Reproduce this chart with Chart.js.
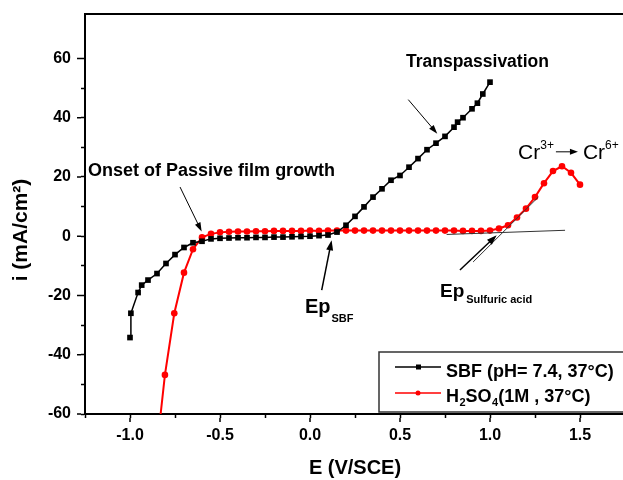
<!DOCTYPE html>
<html>
<head>
<meta charset="utf-8">
<script src="https://cdn.jsdelivr.net/npm/chart.js@4.4.1/dist/chart.umd.min.js"></script>
<style>
  html, body { margin: 0; padding: 0; background: #fff; overflow: hidden; }
  #wrap { width: 623px; height: 480px; overflow: hidden; }
  canvas { display: block; }
</style>
</head>
<body>
<div id="wrap"><canvas id="chart" width="640" height="480"></canvas></div>
<script>
// potential (V/SCE) and current density (mA/cm2)
const SBF_E = [-1.0, -0.995, -0.955, -0.935, -0.90, -0.85, -0.80, -0.75, -0.70, -0.65, -0.60, -0.55,
  -0.50, -0.45, -0.40, -0.35, -0.30, -0.25, -0.20, -0.15, -0.10, -0.05, 0.0, 0.05, 0.10,
  0.15, 0.20, 0.25, 0.30, 0.35, 0.40, 0.45, 0.50, 0.55, 0.60, 0.65, 0.70, 0.75, 0.80, 0.82,
  0.85, 0.90, 0.93, 0.96, 1.0];
const SBF_I = [-34.2, -26, -19, -16.5, -14.8, -12.6, -9.2, -6.2, -3.8, -2.2, -1.7, -0.9,
  -0.7, -0.6, -0.5, -0.5, -0.4, -0.4, -0.3, -0.3, -0.2, -0.1, 0.0, 0.2, 0.4,
  1.4, 3.7, 6.7, 9.9, 13.2, 16.0, 18.9, 20.5, 23.3, 26.2, 29.2, 31.4, 33.7, 36.8, 38.5,
  40.0, 43.0, 44.9, 48.0, 52.0];

const ACID_E = [-0.855, -0.806, -0.754, -0.70, -0.65, -0.60, -0.55, -0.50, -0.45, -0.40, -0.35,
  -0.30, -0.25, -0.20, -0.15, -0.10, -0.05, 0.0, 0.05, 0.10, 0.15, 0.20, 0.25, 0.30, 0.35,
  0.40, 0.45, 0.50, 0.55, 0.60, 0.65, 0.70, 0.75, 0.80, 0.85, 0.90, 0.95, 1.0, 1.05, 1.10,
  1.15, 1.20, 1.25, 1.30, 1.35, 1.40, 1.45, 1.50];
const ACID_I = [-74, -46.8, -26, -12.3, -4.4, -0.4, 0.8, 1.3, 1.5, 1.6, 1.6,
  1.7, 1.7, 1.8, 1.8, 1.8, 1.8, 1.9, 1.8, 1.9, 1.9, 1.9, 1.9, 1.9, 1.9,
  1.9, 1.9, 1.9, 1.9, 1.9, 1.9, 1.9, 1.9, 1.9, 1.8, 1.8, 1.8, 1.9, 2.6, 3.7,
  6.3, 9.3, 13.2, 17.9, 22.0, 23.6, 21.4, 17.4];

const X_LABELS = [-1.0, -0.5, 0.0, 0.5, 1.0, 1.5];
const Y_LABELS = [-60, -40, -20, 0, 20, 40, 60];

const LEGEND_SBF = "SBF (pH= 7.4, 37°C)";
const LEGEND_ACID = ["H", "2", "SO", "4", "(1M , 37°C)"];

const FONT = "'Liberation Sans', Arial, sans-serif";

function points(xs, ys) {
  return xs.map((x, i) => ({ x, y: ys[i] }));
}

function isLabel(list, v) {
  return list.some((l) => Math.abs(l - v) < 1e-6);
}

function arrow(ctx, x1, y1, x2, y2, len = 9, half = 3) {
  const a = Math.atan2(y2 - y1, x2 - x1);
  ctx.beginPath();
  ctx.moveTo(x1, y1);
  ctx.lineTo(x2 - Math.cos(a) * len * 0.8, y2 - Math.sin(a) * len * 0.8);
  ctx.stroke();
  ctx.beginPath();
  ctx.moveTo(x2, y2);
  ctx.lineTo(x2 - Math.cos(a) * len - Math.sin(a) * half, y2 - Math.sin(a) * len + Math.cos(a) * half);
  ctx.lineTo(x2 - Math.cos(a) * len + Math.sin(a) * half, y2 - Math.sin(a) * len - Math.cos(a) * half);
  ctx.closePath();
  ctx.fill();
}

const decor = {
  id: "decor",
  afterDraw(chart) {
    const { ctx, chartArea: area, scales } = chart;
    const px = (v) => scales.x.getPixelForValue(v);
    const py = (v) => scales.y.getPixelForValue(v);
    ctx.save();

    // top spine
    ctx.strokeStyle = "#000";
    ctx.lineWidth = 2;
    ctx.beginPath();
    ctx.moveTo(area.left - 1, area.top);
    ctx.lineTo(area.right + 1, area.top);
    ctx.stroke();

    // longer major ticks
    ctx.lineWidth = 1.5;
    ctx.beginPath();
    Y_LABELS.forEach((v) => {
      ctx.moveTo(area.left - 4, py(v));
      ctx.lineTo(area.left - 8, py(v));
    });
    X_LABELS.forEach((v) => {
      ctx.moveTo(px(v), area.bottom + 4);
      ctx.lineTo(px(v), area.bottom + 8);
    });
    ctx.stroke();

    // tangent construction lines
    ctx.strokeStyle = "#333";
    ctx.lineWidth = 1;
    ctx.beginPath();
    ctx.moveTo(px(0.759), py(0.6));
    ctx.lineTo(px(1.417), py(2.0));
    ctx.moveTo(px(0.906), py(-8.7));
    ctx.lineTo(px(1.268), py(13.2));
    ctx.stroke();

    // arrows
    ctx.strokeStyle = "#000";
    ctx.fillStyle = "#000";
    ctx.lineWidth = 1;
    arrow(ctx, px(-0.722), py(16.6), px(-0.602), py(1.6));
    arrow(ctx, px(0.546), py(46.1), px(0.707), py(34.6));
    ctx.lineWidth = 1.5;
    arrow(ctx, px(0.065), py(-18.2), px(0.12), py(-1.4), 10, 3.5);
    arrow(ctx, px(0.833), py(-11.4), px(1.037), py(0.3), 10, 3.5);

    // annotation text
    ctx.fillStyle = "#000";
    ctx.textBaseline = "middle";
    ctx.textAlign = "left";
    ctx.font = `bold 18px ${FONT}`;
    ctx.fillText("Onset of Passive film growth", px(-1.233), py(21.9));
    ctx.font = `bold 17.5px ${FONT}`;
    ctx.fillText("Transpassivation", px(0.533), py(58.9));

    ctx.textBaseline = "alphabetic";
    let x = px(-0.028);
    let y = py(-25.9);
    ctx.font = `bold 20px ${FONT}`;
    ctx.fillText("Ep", x, y);
    x += ctx.measureText("Ep").width + 1;
    ctx.font = `bold 11px ${FONT}`;
    ctx.fillText("SBF", x, y + 9);

    x = px(0.722);
    y = py(-20.5);
    ctx.font = `bold 19px ${FONT}`;
    ctx.fillText("Ep", x, y);
    x += ctx.measureText("Ep").width + 2;
    ctx.font = `bold 11px ${FONT}`;
    ctx.fillText("Sulfuric acid", x, y + 6);

    x = px(1.156);
    y = py(26.8) + 2;
    ctx.font = `21px ${FONT}`;
    ctx.fillText("Cr", x, y);
    x += ctx.measureText("Cr").width;
    ctx.font = `12px ${FONT}`;
    ctx.fillText("3+", x, y - 10);
    x += ctx.measureText("3+").width + 2;
    ctx.lineWidth = 1;
    arrow(ctx, x, y - 7, x + 22, y - 7, 8, 3);
    x += 27;
    ctx.font = `21px ${FONT}`;
    ctx.fillText("Cr", x, y);
    x += ctx.measureText("Cr").width;
    ctx.font = `12px ${FONT}`;
    ctx.fillText("6+", x, y - 10);

    // legend box
    const lx = 379, ly = 352, lh = 60;
    ctx.fillStyle = "#fff";
    ctx.fillRect(lx, ly, chart.width - lx, lh);
    ctx.strokeStyle = "#333";
    ctx.lineWidth = 1.5;
    ctx.strokeRect(lx, ly, chart.width - lx + 5, lh);

    const rows = [
      { y: 367, color: "#000", style: "rect" },
      { y: 393, color: "#ff0000", style: "circle" },
    ];
    rows.forEach((r) => {
      ctx.strokeStyle = r.color;
      ctx.fillStyle = r.color;
      ctx.lineWidth = 1.5;
      ctx.beginPath();
      ctx.moveTo(395, r.y);
      ctx.lineTo(441, r.y);
      ctx.stroke();
      ctx.beginPath();
      if (r.style === "rect") ctx.rect(416, r.y - 2.5, 5, 5);
      else ctx.arc(418, r.y, 2.5, 0, Math.PI * 2);
      ctx.fill();
    });

    ctx.fillStyle = "#000";
    ctx.textBaseline = "alphabetic";
    ctx.font = `bold 18px ${FONT}`;
    ctx.fillText(LEGEND_SBF, 446, 377);
    x = 446;
    y = 402;
    LEGEND_ACID.forEach((part, i) => {
      const sub = i === 1 || i === 3;
      ctx.font = sub ? `bold 11px ${FONT}` : `bold 18px ${FONT}`;
      ctx.fillText(part, x, sub ? y + 4 : y);
      x += ctx.measureText(part).width + (sub ? 0 : 0.5);
    });

    // y-axis title
    ctx.save();
    ctx.translate(21, 230);
    ctx.rotate(-Math.PI / 2);
    ctx.textAlign = "center";
    ctx.textBaseline = "middle";
    ctx.font = `bold 21px ${FONT}`;
    ctx.fillText("i (mA/cm²)", 0, 0);
    ctx.restore();

    ctx.restore();
  },
};

new Chart(document.getElementById("chart"), {
  type: "line",
  data: {
    datasets: [
      {
        label: "SBF",
        data: points(SBF_E, SBF_I),
        borderColor: "#000",
        backgroundColor: "#000",
        borderWidth: 1.5,
        pointStyle: "rect",
        pointRadius: 4,
        pointBorderWidth: 0,
        tension: 0,
      },
      {
        label: "H2SO4",
        data: points(ACID_E, ACID_I),
        borderColor: "#ff0000",
        backgroundColor: "#ff0000",
        borderWidth: 2,
        pointStyle: "circle",
        pointRadius: 3.3,
        pointBorderWidth: 0,
        tension: 0,
      },
    ],
  },
  options: {
    responsive: false,
    animation: false,
    events: [],
    layout: { padding: { top: 14, right: 15, left: 0, bottom: 0 } },
    plugins: { legend: { display: false }, tooltip: { enabled: false } },
    scales: {
      x: {
        type: "linear",
        min: -1.25,
        max: 1.75,
        grid: { drawOnChartArea: false, tickLength: 4, tickWidth: 1.5, tickColor: "#000" },
        border: { color: "#000", width: 2 },
        ticks: {
          stepSize: 0.25,
          autoSkip: false,
          maxRotation: 0,
          padding: 8,
          color: "#000",
          font: { family: FONT, size: 16, weight: "bold" },
          callback: (v) => (isLabel(X_LABELS, v) ? v.toFixed(1) : ""),
        },
        title: {
          display: true,
          text: "E (V/SCE)",
          color: "#000",
          font: { family: FONT, size: 20, weight: "bold" },
          padding: { top: 0, bottom: 0 },
        },
        afterFit: (s) => { s.height = 66; s.paddingLeft = 0; s.paddingRight = 0; },
      },
      y: {
        type: "linear",
        min: -60,
        max: 75,
        grid: { drawOnChartArea: false, tickLength: 4, tickWidth: 1.5, tickColor: "#000" },
        border: { color: "#000", width: 2 },
        ticks: {
          stepSize: 10,
          autoSkip: false,
          padding: 10,
          color: "#000",
          font: { family: FONT, size: 16, weight: "bold" },
          callback: (v) => (isLabel(Y_LABELS, v) ? String(v) : ""),
        },
        afterBuildTicks: (s) => { s.ticks = s.ticks.filter((t) => t.value <= 70); },
        afterFit: (s) => { s.width = 85; s.paddingTop = 0; s.paddingBottom = 0; },
      },
    },
  },
  plugins: [decor],
});
</script>
</body>
</html>
